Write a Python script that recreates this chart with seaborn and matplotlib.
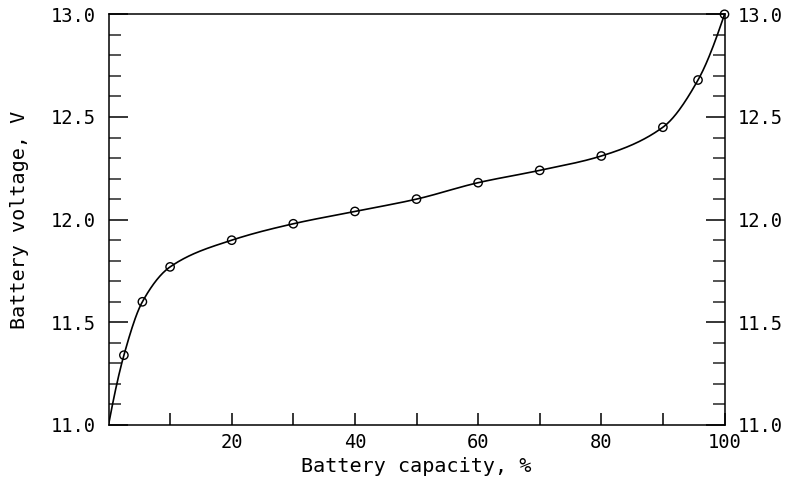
import numpy as np
import pandas as pd
import matplotlib
matplotlib.use("Agg")
import matplotlib.pyplot as plt
import seaborn as sns
from matplotlib.ticker import MultipleLocator, FixedLocator

# ---- data ----
capacity = [2.5, 5.5, 10, 20, 30, 40, 50, 60, 70, 80, 90, 95.7, 100]
voltage = [11.34, 11.60, 11.77, 11.90, 11.98, 12.04, 12.10, 12.18, 12.24, 12.31, 12.45, 12.68, 13.00]
curve_start_capacity = [0.0]
curve_start_voltage = [11.0]
x_tick_labels = ["20", "40", "60", "80", "100"]
y_tick_labels = ["11.0", "11.5", "12.0", "12.5", "13.0"]


def pchip(xk, yk, xs):
    xk = np.asarray(xk, float); yk = np.asarray(yk, float)
    h = np.diff(xk); d = np.diff(yk) / h
    n = len(xk); m = np.zeros(n)
    for k in range(1, n - 1):
        if d[k - 1] * d[k] > 0:
            w1 = 2 * h[k] + h[k - 1]; w2 = h[k] + 2 * h[k - 1]
            m[k] = (w1 + w2) / (w1 / d[k - 1] + w2 / d[k])
    def end(h0, h1, d0, d1):
        v = ((2 * h0 + h1) * d0 - h0 * d1) / (h0 + h1)
        if np.sign(v) != np.sign(d0):
            v = 0.0
        elif np.sign(d0) != np.sign(d1) and abs(v) > abs(3 * d0):
            v = 3 * d0
        return v
    m[0] = end(h[0], h[1], d[0], d[1])
    m[-1] = end(h[-1], h[-2], d[-1], d[-2])
    idx = np.clip(np.searchsorted(xk, xs) - 1, 0, n - 2)
    t = (xs - xk[idx]) / h[idx]
    h00 = 2 * t**3 - 3 * t**2 + 1; h10 = t**3 - 2 * t**2 + t
    h01 = -2 * t**3 + 3 * t**2; h11 = t**3 - t**2
    return h00 * yk[idx] + h10 * h[idx] * m[idx] + h01 * yk[idx + 1] + h11 * h[idx] * m[idx + 1]


knot_x = curve_start_capacity + capacity
knot_y = curve_start_voltage + voltage
xs = np.linspace(knot_x[0], knot_x[-1], 600)
curve = pd.DataFrame({"capacity": xs, "voltage": pchip(knot_x, knot_y, xs)})
points = pd.DataFrame({"capacity": capacity, "voltage": voltage})

sns.set_theme(style="ticks")
plt.rcParams["font.family"] = ["DejaVu Sans Mono", "DejaVu Sans"]
plt.rcParams["axes.linewidth"] = 1.1

fig = plt.figure(figsize=(7.85, 4.80), dpi=100)
ax = fig.add_axes([108.5 / 785, 55 / 480, 616 / 785, 410.7 / 480])

sns.lineplot(data=curve, x="capacity", y="voltage", ax=ax, color="black",
             linewidth=1.2, sort=False, estimator=None)
sns.scatterplot(data=points, x="capacity", y="voltage", ax=ax, marker="o",
                s=36, facecolors="none", edgecolor="black", linewidth=1.0,
                zorder=3, clip_on=False)

ax.set_xlim(0, 100)
ax.set_ylim(11.0, 13.0)

ax.xaxis.set_major_locator(FixedLocator([20, 40, 60, 80, 100]))
ax.set_xticklabels(x_tick_labels)
ax.xaxis.set_minor_locator(FixedLocator([10, 30, 50, 70, 90]))
ax.yaxis.set_major_locator(FixedLocator([11.0, 11.5, 12.0, 12.5, 13.0]))
ax.set_yticklabels(y_tick_labels)
ax.yaxis.set_minor_locator(MultipleLocator(0.1))

for s in ["top", "right", "left", "bottom"]:
    ax.spines[s].set_visible(True)
    ax.spines[s].set_color("black")
    ax.spines[s].set_linewidth(1.1)

ax.tick_params(axis="x", which="both", direction="in", length=8.6, width=1.1,
               top=False, bottom=True, labelsize=13.5, pad=6, colors="black")
ax.tick_params(axis="y", which="major", direction="in", length=14, width=1.1,
               left=True, right=True, labelleft=True, labelright=True,
               labelsize=13.5, pad=9.5, colors="black")
ax.tick_params(axis="y", which="minor", direction="in", length=8.6, width=1.1,
               left=True, right=True)

ax.set_xlabel("Battery capacity, %", fontsize=14.5, labelpad=3, color="black")
ax.set_ylabel("Battery voltage, V", fontsize=14.5, labelpad=15, color="black")
ax.grid(False)

fig.savefig("out.png", dpi=100, facecolor="white")
